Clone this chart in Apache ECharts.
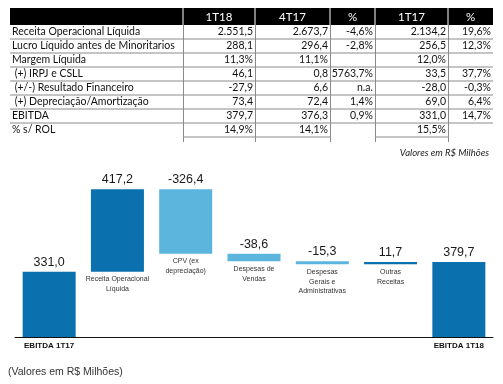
<!DOCTYPE html>
<html><head><meta charset="utf-8">
<script src="https://cdn.jsdelivr.net/npm/echarts@6/dist/echarts.min.js"></script>
<style>html,body{margin:0;padding:0;background:#fff}#c{width:503px;height:384px}</style>
</head><body><div id="c"></div>
<script>
// ---- Table data ----
const tableHeaders = ['', '1T18', '4T17', '%', '1T17', '%'];
const rowLabels = ['Receita Operacional Líquida', 'Lucro Líquido antes de Minoritarios', 'Margem Líquida', ' (+) IRPJ e CSLL', ' (+/-) Resultado Financeiro', ' (+) Depreciação/Amortização', 'EBITDA', '% s/ ROL'];
const col1T18 = ['2.551,5', '288,1', '11,3%', '46,1', '-27,9', '73,4', '379,7', '14,9%'];
const col4T17 = ['2.673,7', '296,4', '11,1%', '0,8', '6,6', '72,4', '376,3', '14,1%'];
const colVarQ = ['-4,6%', '-2,8%', '', '5763,7%', 'n.a.', '1,4%', '0,9%', ''];
const col1T17 = ['2.134,2', '256,5', '12,0%', '33,5', '-28,0', '69,0', '331,0', '15,5%'];
const colVarY = ['19,6%', '12,3%', '', '37,7%', '-0,3%', '6,4%', '14,7%', ''];

// ---- Waterfall data ----
const categories = ['EBITDA 1T17', 'Receita Operacional\nLíquida', 'CPV (ex\ndepreciação)', 'Despesas de\nVendas', 'Despesas\nGerais e\nAdministrativas', 'Outras\nReceitas', 'EBITDA 1T18'];
const values = [331.0, 417.2, -326.4, -38.6, -15.3, 11.7, 379.7];
const isTotal = [true, false, false, false, false, false, true];

const DARK = '#0A70AE', LIGHT = '#5BB5DC';
const fmt = v => v.toFixed(1).replace('.', ',');

const baseData = [], barData = [];
let run = 0;
values.forEach((v, i) => {
  if (isTotal[i]) { baseData.push(0); barData.push({value: v, itemStyle: {color: DARK}}); run = v; }
  else if (v >= 0) { baseData.push(run); barData.push({value: v, itemStyle: {color: DARK}}); run += v; }
  else { run += v; baseData.push(run); barData.push({value: -v, itemStyle: {color: LIGHT}}); }
});

// ---- Table graphics ----
const colEdges = [10, 183, 255, 330, 375, 448, 493];
const headTop = 8, headBot = 25, pitch = 14;
const FONT = 'Lato';
const TFS = 10.5;
const g = [];
g.push({type: 'rect', shape: {x: colEdges[0], y: headTop, width: colEdges[6] - colEdges[0], height: headBot - headTop}, style: {fill: '#000'}});
for (let c = 1; c < tableHeaders.length; c++) {
  g.push({type: 'line', shape: {x1: colEdges[c], y1: headTop, x2: colEdges[c], y2: headBot}, style: {stroke: '#fff', lineWidth: 1}});
  g.push({type: 'text', style: {text: tableHeaders[c], x: (colEdges[c] + colEdges[c + 1]) / 2, y: (headTop + headBot) / 2 + 1, fill: '#fff', fontSize: 11.5, fontFamily: FONT, align: 'center', verticalAlign: 'middle'}});
}
const cols = [col1T18, col4T17, colVarQ, col1T17, colVarY];
rowLabels.forEach((lab, r) => {
  const bot = headBot + pitch * (r + 1);
  const cy = bot - pitch / 2;
  g.push({type: 'text', style: {text: lab, x: colEdges[0] + 2, y: cy, fill: '#111', fontSize: TFS, fontFamily: FONT, align: 'left', verticalAlign: 'middle'}});
  if (r < rowLabels.length - 1) {
    g.push({type: 'line', shape: {x1: colEdges[0], y1: bot, x2: colEdges[6], y2: bot}, style: {stroke: '#8a8a8a', lineWidth: 1}});
  }
  cols.forEach((col, c) => {
    const t = col[r];
    if (!t) return;
    g.push({type: 'text', style: {text: t, x: colEdges[c + 2] - 2, y: cy, fill: '#111', fontSize: TFS, fontFamily: FONT, align: 'right', verticalAlign: 'middle'}});
    if (r === rowLabels.length - 1) {
      g.push({type: 'line', shape: {x1: colEdges[c + 1], y1: bot, x2: colEdges[c + 2], y2: bot}, style: {stroke: '#8a8a8a', lineWidth: 1}});
    }
  });
});
for (let c = 1; c < 6; c++) {
  g.push({type: 'line', shape: {x1: colEdges[c] + 0.5, y1: headBot, x2: colEdges[c] + 0.5, y2: headBot + pitch * 8 + 5}, style: {stroke: '#8a8a8a', lineWidth: 1}});
}
g.push({type: 'text', style: {text: 'Valores em R$ Milhões', x: 489, y: 153, fill: '#222', fontSize: 9.5, fontStyle: 'italic', fontFamily: FONT, align: 'right', verticalAlign: 'middle'}});
g.push({type: 'text', style: {text: '(Valores em R$ Milhões)', x: 8, y: 372, fill: '#333', fontSize: 10.5, fontFamily: 'Liberation Sans', align: 'left', verticalAlign: 'middle'}});

const chart = echarts.init(document.getElementById('c'), null, {renderer: 'canvas'});
chart.setOption({
  backgroundColor: '#fff',
  animation: false,
  grid: {left: 15, right: 10, top: 179, bottom: 47},
  xAxis: {
    type: 'category', data: categories,
    axisLine: {lineStyle: {color: '#111', width: 1}},
    axisTick: {show: false},
    axisLabel: {interval: 0, margin: 5, fontSize: 8, fontWeight: 'bold', color: '#111', fontFamily: 'Liberation Sans',
      formatter: (v, i) => isTotal[i] ? v : ''}
  },
  yAxis: {type: 'value', min: 0, max: 800, show: false, splitLine: {show: false}},
  series: [
    {type: 'bar', stack: 'w', barWidth: 53, data: baseData, itemStyle: {color: 'rgba(0,0,0,0)'},
      label: {show: true, position: 'insideTop', distance: 3, fontSize: 7, lineHeight: 9.5, color: '#333', fontFamily: 'Liberation Sans',
        formatter: p => isTotal[p.dataIndex] ? '' : categories[p.dataIndex]}},
    {type: 'bar', stack: 'w', barWidth: 53, data: barData,
      label: {show: true, position: 'top', distance: 3, fontSize: 12.5, color: '#1a1a1a', fontFamily: 'Liberation Sans',
        formatter: p => fmt(values[p.dataIndex])}}
  ],
  graphic: g
});
</script></body></html>
